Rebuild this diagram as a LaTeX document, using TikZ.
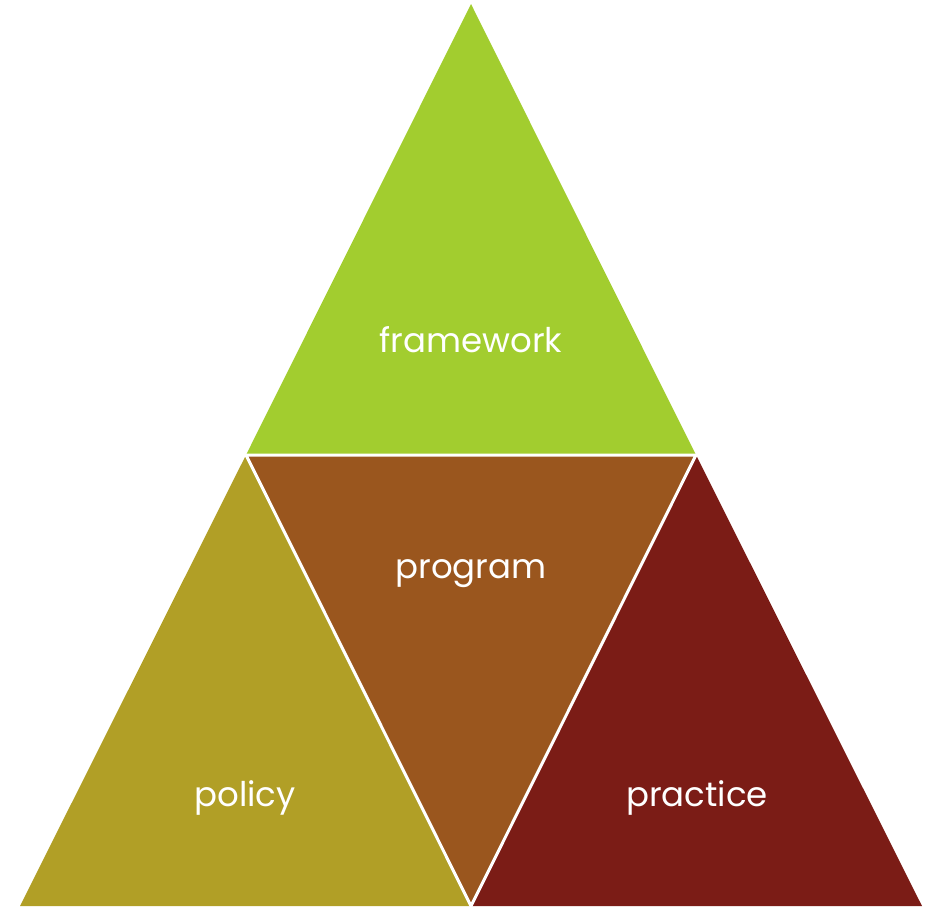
\documentclass[tikz,border=0pt]{standalone}
\usepackage{fontspec}
\setmainfont{Poppins}
\definecolor{fwgreen}{RGB}{162,205,47}
\definecolor{pololive}{RGB}{177,159,38}
\definecolor{progbrown}{RGB}{154,86,30}
\definecolor{pracred}{RGB}{123,28,22}
\tikzstyle{piece} = [draw=white, line width=3pt, line join=miter]
\tikzstyle{label} = [text=white, font=\fontsize{34}{40}\selectfont, inner sep=0pt]

\begin{document}
\begin{tikzpicture}[x=1pt, y=-1pt]
\useasboundingbox (0,0) rectangle (925,906);

%% CORNERS

\coordinate (top) at (471,4);
\coordinate (bl) at (20,906);
\coordinate (br) at (922,906);
\coordinate (ml) at (246,455);
\coordinate (mr) at (696,455);
\coordinate (mb) at (471,906);

%% PIECES

\fill [fwgreen] (top) -- (ml) -- (mr) -- cycle;
\fill [pololive] (ml) -- (bl) -- (mb) -- cycle;
\fill [progbrown] (ml) -- (mr) -- (mb) -- cycle;
\fill [pracred] (mr) -- (mb) -- (br) -- cycle;
\draw [piece] (ml) -- (mr) -- (mb) -- cycle;

%% LABELS

\node (framework) [label] at (471,340) {framework};
\node (program) [label] at (471,574) {program};
\node (policy) [label] at (245,798) {policy};
\node (practice) [label] at (697,798) {practice};
\end{tikzpicture}
\end{document}
